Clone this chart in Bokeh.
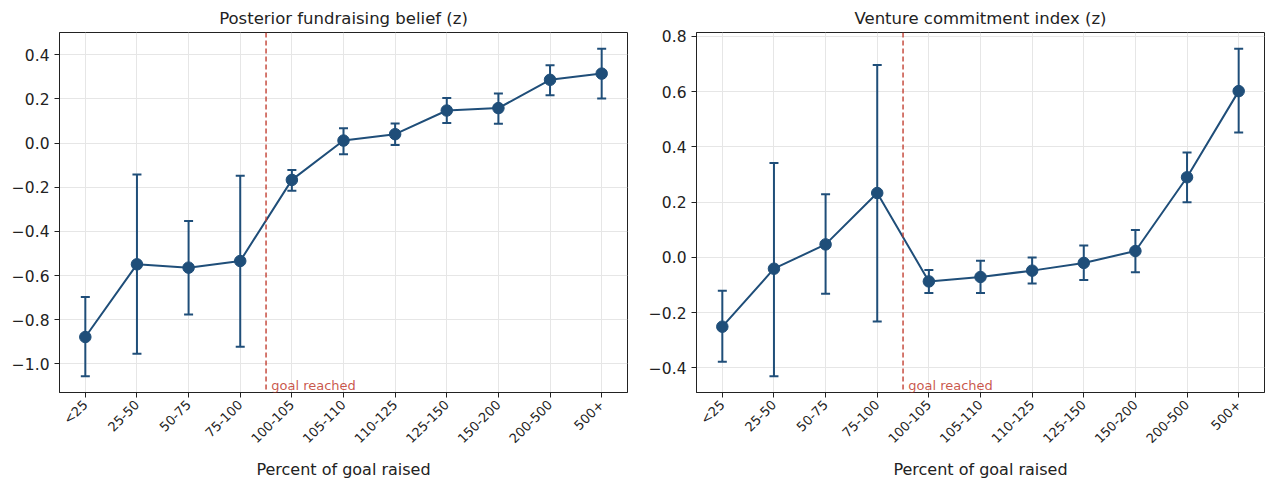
from math import pi
from bokeh.plotting import figure
from bokeh.layouts import row
from bokeh.models import (FixedTicker, CustomJSTickFormatter, Span, Label,
                          ColumnDataSource, Range1d)
from bokeh.embed import file_html
from bokeh.resources import INLINE

# ---------------- data ----------------
categories = ["<25", "25-50", "50-75", "75-100", "100-105", "105-110",
              "110-125", "125-150", "150-200", "200-500", "500+"]

belief_mean = [-0.878, -0.549, -0.564, -0.534, -0.167, 0.011, 0.040, 0.147, 0.158, 0.286, 0.314]
belief_low = [-1.055, -0.954, -0.776, -0.922, -0.216, -0.051, -0.009, 0.090, 0.087, 0.216, 0.201]
belief_high = [-0.697, -0.143, -0.353, -0.148, -0.122, 0.067, 0.088, 0.204, 0.224, 0.352, 0.426]

commit_mean = [-0.251, -0.041, 0.047, 0.233, -0.087, -0.071, -0.048, -0.020, 0.023, 0.290, 0.602]
commit_low = [-0.378, -0.430, -0.132, -0.232, -0.129, -0.129, -0.095, -0.082, -0.054, 0.200, 0.452]
commit_high = [-0.121, 0.342, 0.229, 0.697, -0.046, -0.012, 0.000, 0.043, 0.099, 0.380, 0.755]

belief_ticks = [-1.0, -0.8, -0.6, -0.4, -0.2, 0.0, 0.2, 0.4]
commit_ticks = [-0.4, -0.2, 0.0, 0.2, 0.4, 0.6, 0.8]

titles = ["Posterior fundraising belief (z)", "Venture commitment index (z)"]
x_label = "Percent of goal raised"
goal_text = "goal reached"

BLUE = "#1f4e79"
RED = "#c0392b"
FONT = "DejaVu Sans"
TXT = "#222222"


def panel(title, mean, low, high, yticks, min_left, min_right):
    xs = list(range(len(categories)))
    span = max(high) - min(low)
    ylo = min(low) - 0.05 * span
    yhi = max(high) + 0.05 * span
    p = figure(frame_width=568, frame_height=360, output_backend="svg",
               toolbar_location=None, x_range=Range1d(-0.5, len(categories) - 0.5),
               y_range=Range1d(ylo, yhi), min_border_left=min_left,
               min_border_right=min_right, min_border_top=32, min_border_bottom=0,
               background_fill_color="white", border_fill_color="white")
    p.title.text = title
    p.title.text_font = FONT
    p.title.text_font_size = "16.5px"
    p.title.text_font_style = "normal"
    p.title.text_color = TXT
    p.title.align = "center"
    p.title.standoff = 9
    p.title.offset = 0

    p.outline_line_color = "#222222"
    p.outline_line_width = 1
    p.outline_line_alpha = 1

    for g in (p.xgrid, p.ygrid):
        g.grid_line_color = "#e6e6e6"
        g.grid_line_width = 1

    xa = p.xaxis[0]
    xa.ticker = FixedTicker(ticks=xs)
    xa.major_label_overrides = {i: c for i, c in enumerate(categories)}
    xa.major_label_orientation = pi / 4
    xa.major_label_text_font = FONT
    xa.major_label_text_font_size = "13px"
    xa.major_label_text_color = TXT
    xa.axis_label = x_label
    xa.axis_label_text_font = FONT
    xa.axis_label_text_font_size = "16px"
    xa.axis_label_text_font_style = "normal"
    xa.axis_label_text_color = TXT
    xa.axis_label_standoff = 5
    xa.major_label_standoff = 5

    ya = p.yaxis[0]
    ya.ticker = FixedTicker(ticks=yticks)
    ya.formatter = CustomJSTickFormatter(code="return tick.toFixed(1).replace('-', '\\u2212');")
    ya.major_label_text_font = FONT
    ya.major_label_text_font_size = "15.5px"
    ya.major_label_text_color = TXT
    ya.major_label_standoff = 5

    for ax in (xa, ya):
        ax.axis_line_color = "#222222"
        ax.major_tick_line_color = "#222222"
        ax.major_tick_out = 5
        ax.major_tick_in = 0
        ax.minor_tick_line_color = None

    p.add_layout(Span(location=3.5, dimension="height", line_color=RED,
                      line_dash="5 3", line_width=1.5, line_alpha=0.9))
    p.add_layout(Label(x=3.6, y=ylo, text=goal_text, text_baseline="bottom",
                       text_align="left", text_font=FONT, text_font_size="13px",
                       text_color=RED, text_alpha=0.85))

    src = ColumnDataSource(dict(x=xs, m=mean, lo=low, hi=high))
    p.segment("x", "lo", "x", "hi", source=src, line_color=BLUE, line_width=2)
    p.scatter("x", "lo", source=src, marker="dash", size=9, line_color=BLUE, line_width=2)
    p.scatter("x", "hi", source=src, marker="dash", size=9, line_color=BLUE, line_width=2)
    p.line("x", "m", source=src, line_color=BLUE, line_width=2)
    p.scatter("x", "m", source=src, size=11.5, fill_color=BLUE, line_color=BLUE)
    return p


p1 = panel(titles[0], belief_mean, belief_low, belief_high, belief_ticks, 59, 10)
p2 = panel(titles[1], commit_mean, commit_low, commit_high, commit_ticks, 59, 1)

layout = row(p1, p2, spacing=0)
open("out.html", "w").write(file_html(layout, INLINE))
